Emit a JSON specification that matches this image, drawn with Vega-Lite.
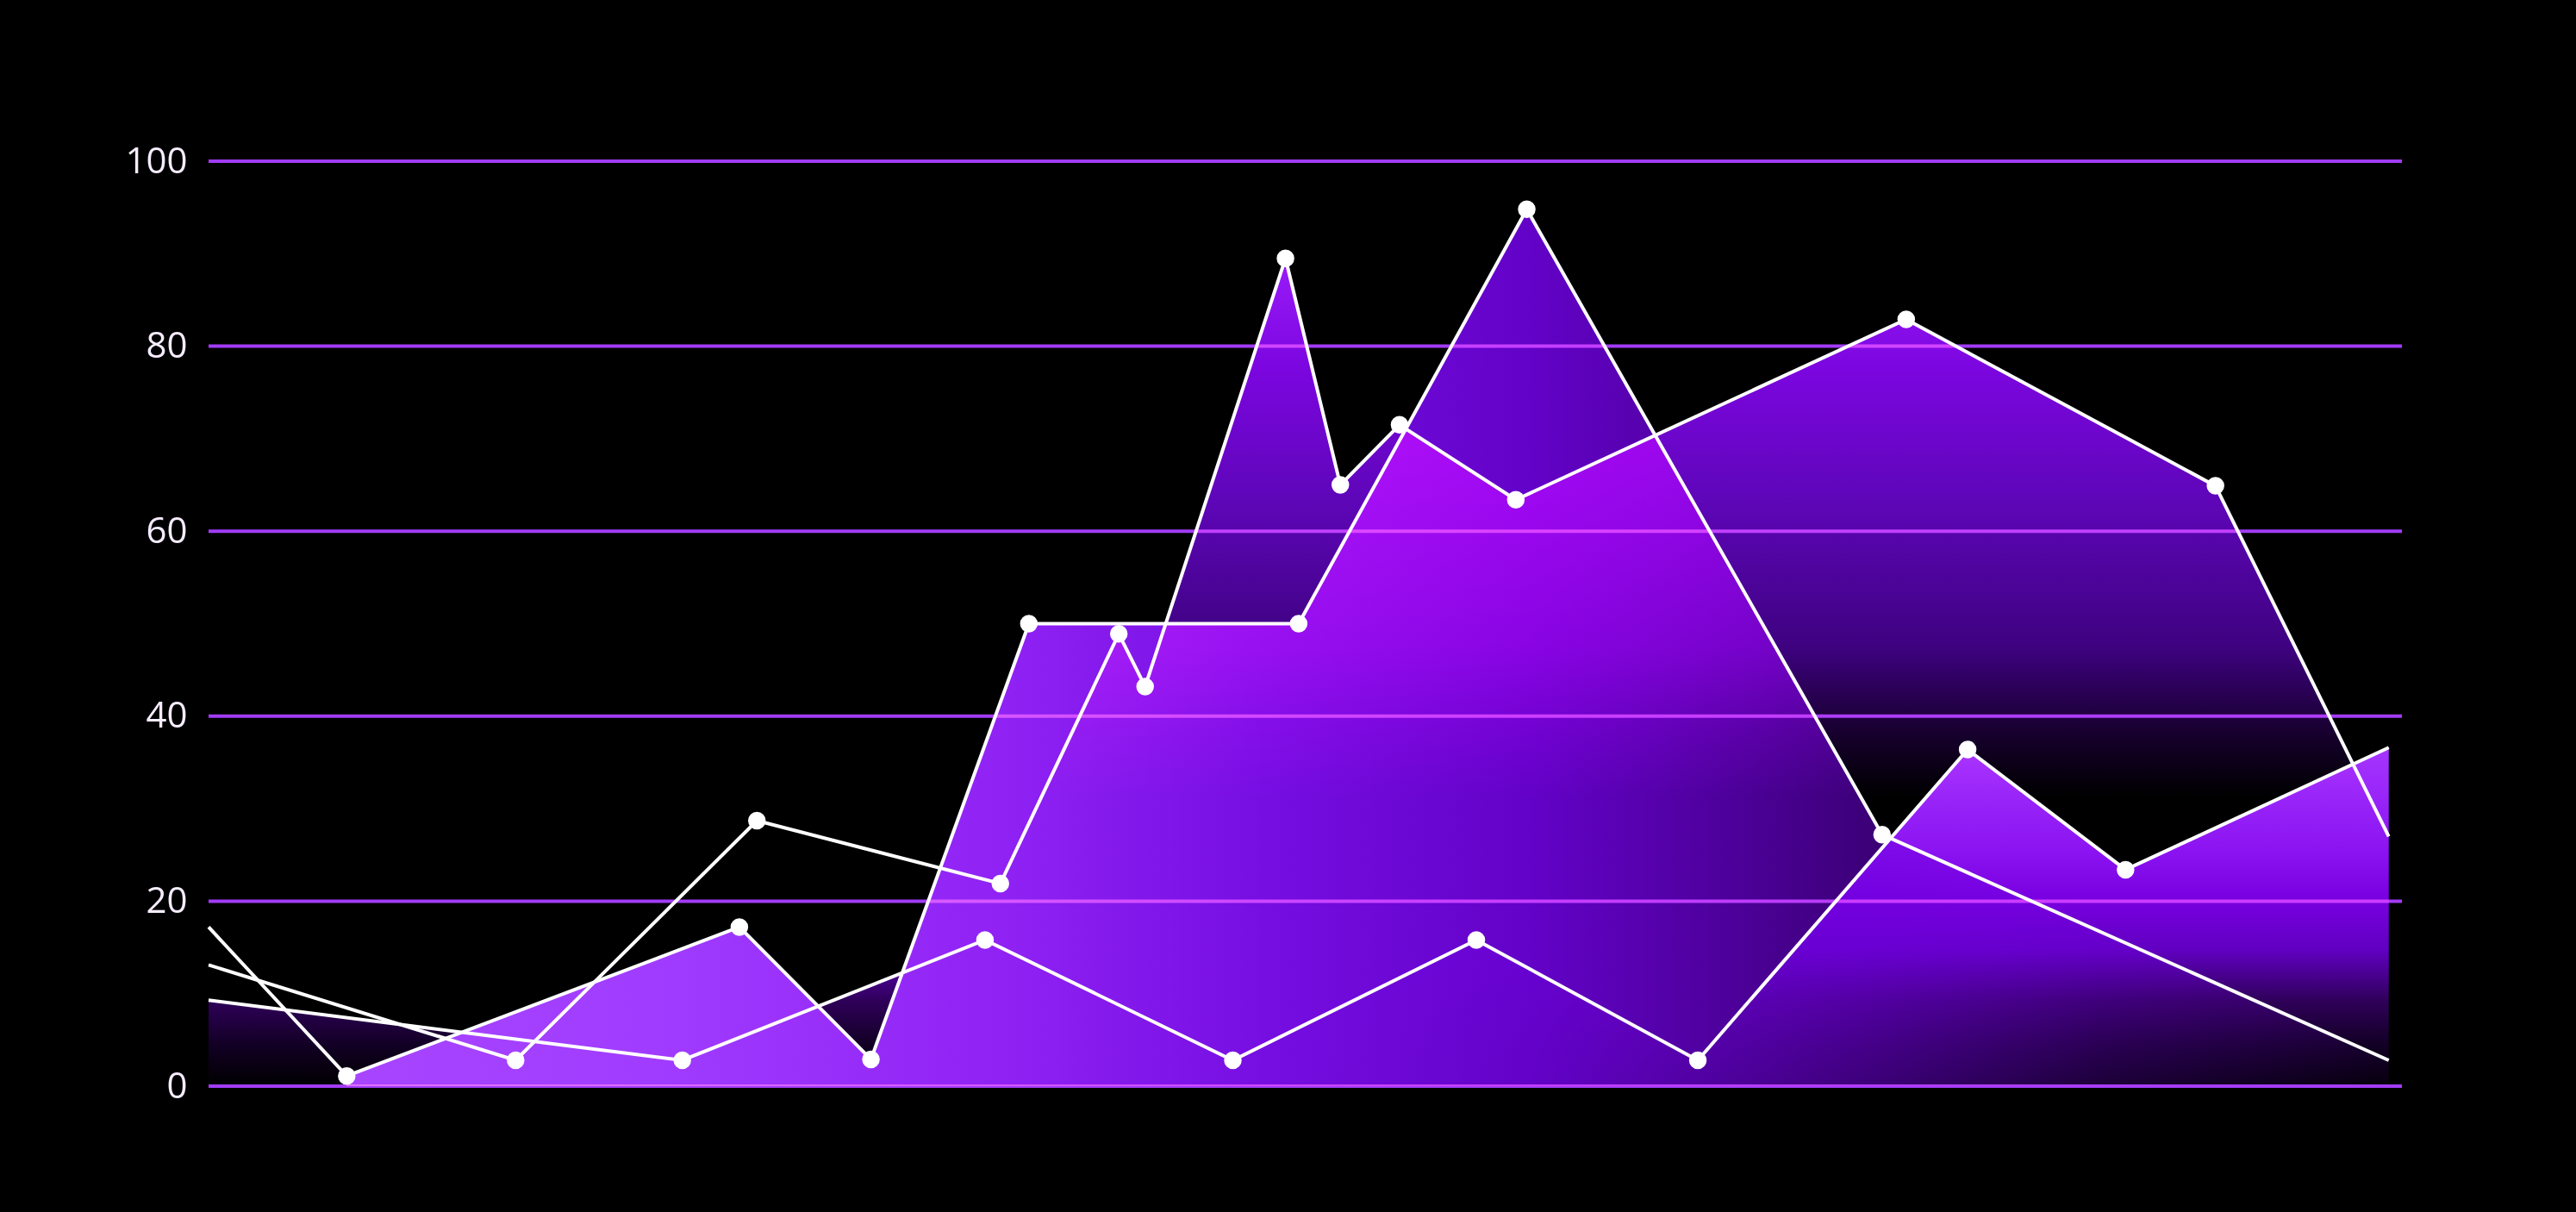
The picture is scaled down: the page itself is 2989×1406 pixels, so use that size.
{
  "$schema": "https://vega.github.io/schema/vega-lite/v6.json",
  "width": 2545,
  "height": 1073,
  "autosize": {"type": "none"},
  "padding": {"left": 242, "top": 187, "right": 202, "bottom": 146},
  "background": "#000000",
  "config": {"view": {"stroke": null}},
  "datasets": {
    "series": [
      {"series": "A", "x": 0, "y": 17.2},
      {"series": "A", "x": 6.3, "y": 1.1},
      {"series": "A", "x": 24.2, "y": 17.2},
      {"series": "A", "x": 30.2, "y": 2.9},
      {"series": "A", "x": 37.4, "y": 50.0},
      {"series": "A", "x": 49.7, "y": 50.0},
      {"series": "A", "x": 60.1, "y": 94.8},
      {"series": "A", "x": 76.3, "y": 27.2},
      {"series": "A", "x": 99.4, "y": 2.8},
      {"series": "B", "x": 0, "y": 13.1},
      {"series": "B", "x": 14.0, "y": 2.8},
      {"series": "B", "x": 25.0, "y": 28.7},
      {"series": "B", "x": 36.1, "y": 21.9},
      {"series": "B", "x": 41.5, "y": 48.9},
      {"series": "B", "x": 42.7, "y": 43.2},
      {"series": "B", "x": 49.1, "y": 89.5},
      {"series": "B", "x": 51.6, "y": 65.0},
      {"series": "B", "x": 54.3, "y": 71.5},
      {"series": "B", "x": 59.6, "y": 63.4},
      {"series": "B", "x": 77.4, "y": 82.9},
      {"series": "B", "x": 91.5, "y": 64.9},
      {"series": "B", "x": 99.4, "y": 27.0},
      {"series": "C", "x": 0, "y": 9.3},
      {"series": "C", "x": 21.6, "y": 2.8},
      {"series": "C", "x": 35.4, "y": 15.8},
      {"series": "C", "x": 46.7, "y": 2.8},
      {"series": "C", "x": 57.8, "y": 15.8},
      {"series": "C", "x": 67.9, "y": 2.8},
      {"series": "C", "x": 80.2, "y": 36.4},
      {"series": "C", "x": 87.4, "y": 23.4},
      {"series": "C", "x": 99.4, "y": 36.6}
    ],
    "gridlines": [
      {"y": 0}, {"y": 20}, {"y": 40}, {"y": 60}, {"y": 80}, {"y": 100}
    ]
  },
  "encoding": {
    "y": {
      "field": "y", "type": "quantitative",
      "scale": {"domain": [0, 100], "nice": false},
      "axis": {
        "values": [0, 20, 40, 60, 80, 100],
        "title": null,
        "grid": false,
        "domain": false,
        "ticks": false,
        "tickSize": 0,
        "labelPadding": 25,
        "labelFont": "Open Sans",
        "labelFontSize": 42,
        "labelColor": "#f5ecff"
      }
    }
  },
  "layer": [
    {
      "data": {"name": "series"},
      "transform": [{"filter": "datum.series === 'C'"}],
      "mark": {
        "type": "area",
        "color": {
          "gradient": "linear", "x1": 0, "y1": 0, "x2": 0, "y2": 1,
          "stops": [
            {"offset": 0, "color": "#a535ff"},
            {"offset": 0.3, "color": "#8c14f2"},
            {"offset": 0.45, "color": "#7800e0"},
            {"offset": 0.6, "color": "#6000c0"},
            {"offset": 0.75, "color": "#2e0058"},
            {"offset": 0.88, "color": "#120024"},
            {"offset": 1, "color": "#000000"}
          ]
        }
      },
      "encoding": {"x": {"field": "x", "type": "quantitative", "scale": {"domain": [0, 100], "nice": false}, "axis": null}}
    },
    {
      "data": {"name": "series"},
      "transform": [{"filter": "datum.series === 'A' && datum.x >= 6"}],
      "mark": {
        "type": "area",
        "color": {
          "gradient": "linear", "x1": 0, "y1": 0, "x2": 1, "y2": 0,
          "stops": [
            {"offset": 0, "color": "rgba(168,69,255,1)"},
            {"offset": 0.15, "color": "rgba(160,60,255,1)"},
            {"offset": 0.32, "color": "rgba(144,34,244,1)"},
            {"offset": 0.45, "color": "rgba(118,14,226,1)"},
            {"offset": 0.58, "color": "rgba(104,2,210,0.95)"},
            {"offset": 0.74, "color": "rgba(112,0,224,0.55)"},
            {"offset": 0.86, "color": "rgba(112,0,224,0.25)"},
            {"offset": 1, "color": "rgba(112,0,224,0.05)"}
          ]
        }
      },
      "encoding": {"x": {"field": "x", "type": "quantitative", "scale": {"domain": [0, 100], "nice": false}, "axis": null}}
    },
    {
      "data": {"name": "series"},
      "transform": [{"filter": "datum.series === 'B'"}],
      "mark": {
        "type": "area", "blend": "screen",
        "color": {
          "gradient": "linear", "x1": 0, "y1": 0, "x2": 0, "y2": 1,
          "stops": [
            {"offset": 0, "color": "#9a1cfa"},
            {"offset": 0.13, "color": "#7c06e0"},
            {"offset": 0.23, "color": "#6a06c8"},
            {"offset": 0.28, "color": "#6006bc"},
            {"offset": 0.47, "color": "#3e0280"},
            {"offset": 0.57, "color": "#180030"},
            {"offset": 0.65, "color": "#000000"},
            {"offset": 1, "color": "#000000"}
          ]
        }
      },
      "encoding": {"x": {"field": "x", "type": "quantitative", "scale": {"domain": [0, 100], "nice": false}, "axis": null}}
    },
    {
      "data": {"name": "gridlines"},
      "mark": {"type": "rule", "color": "#a23cf7", "strokeWidth": 4, "blend": "screen"}
    },
    {
      "data": {"name": "series"},
      "mark": {"type": "line", "color": "#ffffff", "strokeWidth": 4},
      "encoding": {
        "x": {"field": "x", "type": "quantitative", "scale": {"domain": [0, 100], "nice": false}, "axis": null},
        "detail": {"field": "series", "type": "nominal"}
      }
    },
    {
      "data": {"name": "series"},
      "transform": [{"filter": "datum.x > 0 && datum.x < 99"}],
      "mark": {"type": "point", "filled": true, "color": "#ffffff", "opacity": 1, "size": 420},
      "encoding": {"x": {"field": "x", "type": "quantitative", "scale": {"domain": [0, 100], "nice": false}, "axis": null}}
    }
  ]
}
